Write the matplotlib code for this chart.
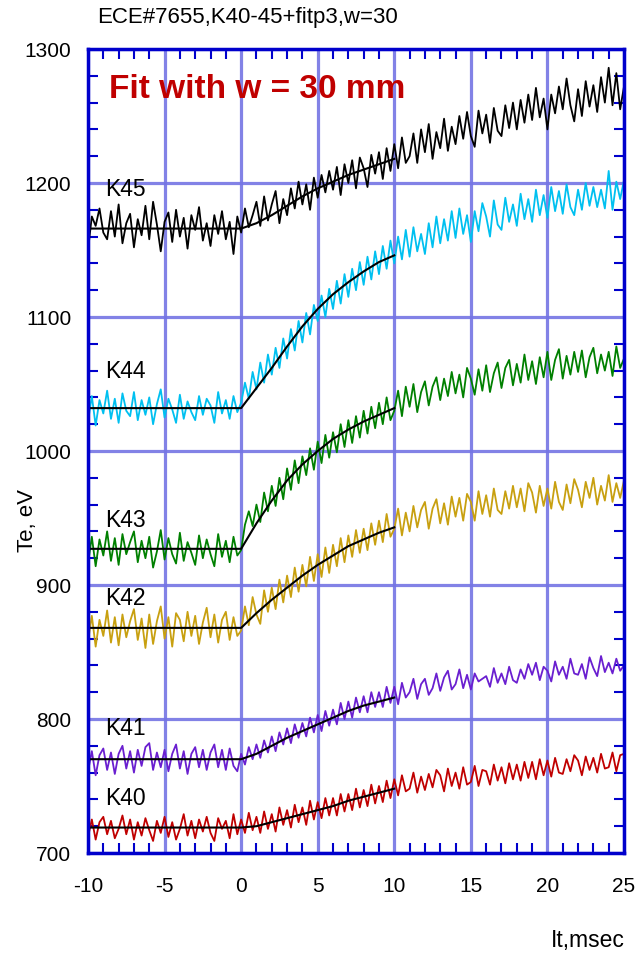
import numpy as np
import matplotlib
matplotlib.use("Agg")
import matplotlib.pyplot as plt
from matplotlib.ticker import MultipleLocator

plt.rcParams['font.family'] = ['Liberation Sans', 'DejaVu Sans']
plt.rcParams['axes.unicode_minus'] = False

# time axis, msec (0.25 ms sampling)
t = np.linspace(-10, 25, 141)

K45 = [1150, 1175, 1168, 1181, 1163, 1158, 1179, 1160, 1184, 1155, 1170, 1177,
       1152, 1173, 1161, 1183, 1158, 1186, 1169, 1149, 1171, 1178, 1156, 1180,
       1160, 1174, 1151, 1176, 1165, 1182, 1157, 1170, 1153, 1176, 1162, 1179,
       1158, 1171, 1147, 1175, 1163, 1181, 1167, 1176, 1186, 1168, 1190, 1172,
       1184, 1194, 1170, 1188, 1176, 1196, 1181, 1201, 1184, 1199, 1180, 1204,
       1189, 1206, 1193, 1209, 1195, 1212, 1191, 1214, 1200, 1217, 1196, 1219,
       1211, 1197, 1221, 1207, 1223, 1203, 1226, 1209, 1229, 1211, 1234, 1215,
       1220, 1237, 1215, 1240, 1223, 1244, 1218, 1238, 1226, 1248, 1224, 1242,
       1229, 1250, 1233, 1253, 1235, 1227, 1254, 1237, 1251, 1230, 1256, 1239,
       1235, 1258, 1241, 1260, 1240, 1262, 1245, 1266, 1247, 1271, 1249, 1263,
       1240, 1266, 1252, 1272, 1255, 1278, 1258, 1246, 1270, 1250, 1276, 1257,
       1273, 1253, 1279, 1260, 1286, 1258, 1282, 1255, 1272]

K44 = [1022, 1041, 1019, 1038, 1028, 1045, 1024, 1039, 1021, 1043, 1030, 1026,
       1044, 1023, 1038, 1027, 1040, 1020, 1035, 1046, 1025, 1039, 1031, 1021,
       1042, 1024, 1037, 1029, 1023, 1041, 1027, 1039, 1034, 1021, 1044, 1028,
       1038, 1024, 1041, 1029, 1036, 1051, 1039, 1059, 1046, 1066, 1051, 1072,
       1057, 1077, 1062, 1084, 1069, 1091, 1075, 1097, 1081, 1103, 1087, 1109,
       1097, 1116, 1100, 1121, 1106, 1127, 1110, 1132, 1115, 1136, 1120, 1141,
       1124, 1145, 1128, 1149, 1132, 1153, 1136, 1157, 1140, 1160, 1143, 1165,
       1145, 1167, 1149, 1162, 1147, 1170, 1152, 1175, 1155, 1173, 1157, 1179,
       1159, 1181, 1162, 1176, 1156, 1179, 1164, 1185, 1175, 1160, 1187, 1169,
       1165, 1189, 1171, 1184, 1168, 1192, 1173, 1188, 1171, 1195, 1176, 1191,
       1174, 1197, 1179, 1194, 1177, 1199, 1182, 1176, 1195, 1180, 1200, 1183,
       1197, 1182, 1195, 1181, 1209, 1180, 1201, 1188, 1202]

K43 = [916, 936, 914, 934, 922, 940, 918, 935, 915, 938, 923, 932,
       940, 917, 933, 920, 936, 913, 925, 941, 919, 935, 923, 916,
       939, 918, 932, 924, 915, 937, 920, 934, 923, 914, 938, 921,
       933, 917, 936, 922, 926, 945, 955, 944, 960, 947, 969, 955,
       974, 959, 980, 964, 987, 971, 993, 976, 996, 982, 1002, 986,
       1007, 991, 1012, 995, 1014, 999, 1020, 1003, 1023, 1006, 1026, 1010,
       1030, 1013, 1033, 1017, 1036, 1020, 1040, 1023, 1030, 1045, 1026, 1048,
       1033, 1050, 1029, 1044, 1052, 1034, 1048, 1055, 1038, 1054, 1041, 1059,
       1043, 1057, 1040, 1062, 1054, 1042, 1061, 1045, 1064, 1044, 1058, 1066,
       1047, 1062, 1068, 1049, 1065, 1051, 1072, 1053, 1067, 1050, 1070, 1055,
       1074, 1053, 1068, 1076, 1054, 1071, 1057, 1074, 1059, 1075, 1055, 1070,
       1077, 1058, 1072, 1060, 1074, 1056, 1078, 1062, 1069]

K42 = [858, 877, 854, 874, 862, 881, 857, 876, 855, 878, 861, 873,
       882, 859, 875, 853, 878, 856, 873, 884, 860, 876, 854, 879,
       874, 858, 880, 862, 877, 856, 872, 883, 861, 878, 857, 874,
       880, 859, 876, 862, 866, 884, 870, 891, 878, 871, 896, 880,
       898, 882, 904, 887, 907, 891, 913, 895, 915, 899, 921, 903,
       923, 906, 928, 909, 930, 914, 935, 917, 937, 921, 941, 924,
       942, 926, 946, 930, 948, 932, 953, 936, 942, 957, 937, 954,
       940, 959, 943, 956, 962, 942, 957, 964, 946, 961, 945, 966,
       951, 965, 948, 968, 962, 948, 970, 953, 967, 951, 972, 956,
       953, 970, 957, 974, 958, 972, 955, 976, 969, 954, 974, 959,
       972, 957, 977, 962, 956, 975, 961, 979, 971, 958, 977, 965,
       980, 960, 974, 963, 982, 962, 976, 965, 978]

K41 = [761, 776, 758, 773, 778, 762, 775, 759, 774, 780, 763, 776,
       760, 777, 765, 779, 782, 762, 775, 764, 777, 761, 774, 781,
       763, 776, 759, 774, 779, 764, 777, 762, 775, 781, 764, 777,
       762, 778, 765, 761, 774, 766, 779, 770, 781, 771, 784, 775,
       787, 776, 790, 781, 793, 782, 796, 786, 797, 787, 801, 790,
       803, 791, 806, 795, 807, 796, 812, 800, 813, 801, 816, 805,
       817, 805, 820, 809, 820, 809, 824, 812, 824, 811, 827, 816,
       820, 830, 815, 826, 830, 818, 823, 834, 821, 831, 836, 822,
       826, 837, 823, 833, 822, 834, 828, 830, 832, 824, 838, 827,
       834, 826, 839, 829, 827, 837, 830, 841, 833, 842, 829, 839,
       836, 828, 843, 833, 839, 830, 845, 834, 833, 841, 830, 846,
       838, 832, 847, 835, 842, 834, 845, 836, 840]

K40 = [712, 725, 710, 723, 727, 714, 724, 711, 718, 728, 714, 725,
       710, 723, 713, 726, 717, 709, 724, 715, 727, 712, 723, 710,
       718, 729, 713, 724, 711, 725, 716, 727, 715, 709, 726, 718,
       724, 711, 729, 714, 725, 715, 730, 717, 727, 715, 731, 718,
       729, 716, 734, 721, 732, 719, 736, 723, 734, 721, 739, 725,
       738, 726, 741, 728, 741, 728, 744, 731, 744, 732, 748, 734,
       747, 735, 751, 737, 750, 738, 754, 741, 755, 743, 758, 746,
       748, 760, 745, 757, 747, 759, 749, 762, 758, 746, 763, 750,
       760, 748, 764, 751, 753, 765, 750, 762, 761, 751, 766, 754,
       764, 752, 767, 755, 766, 754, 768, 756, 768, 755, 770, 758,
       769, 757, 771, 760, 759, 770, 761, 773, 769, 758, 772, 762,
       771, 760, 774, 763, 764, 775, 761, 773, 774]

# fit curves (flat before 0, fit from 0 to 10 msec)
t_fit = [-10, 0, 1, 2, 3, 4, 5, 6, 7, 8, 9, 10]
fit45 = [1166, 1166, 1170, 1176, 1183, 1190, 1196, 1201, 1206, 1210, 1214, 1218]
fit44 = [1032, 1032, 1047, 1062, 1078, 1093, 1106, 1117, 1126, 1134, 1141, 1146]
fit43 = [927, 927, 946, 963, 978, 990, 1000, 1009, 1016, 1022, 1027, 1032]
fit42 = [868, 868, 879, 889, 898, 907, 915, 922, 929, 934, 939, 943]
fit41 = [770, 770, 774, 780, 786, 791, 796, 801, 806, 810, 813, 816]
fit40 = [719, 719, 720, 723, 726, 729, 732, 735, 739, 742, 745, 748]

names = ["K40", "K41", "K42", "K43", "K44", "K45"]
label_y = [741, 793, 890, 948, 1059, 1195]
colors = ["#c00000", "#6a1fd0", "#c8a010", "#008000", "#00c0f0", "#000000"]

series = [K40, K41, K42, K43, K44, K45]
fits = [fit40, fit41, fit42, fit43, fit44, fit45]

fig = plt.figure(figsize=(6.38, 9.55), dpi=100)
ax = fig.add_axes([88 / 638, 1 - 853 / 955, (624 - 88) / 638, (853 - 49) / 955])

ax.set_xlim(-10, 25)
ax.set_ylim(700, 1300)

ax.xaxis.set_major_locator(MultipleLocator(5))
ax.xaxis.set_minor_locator(MultipleLocator(1))
ax.yaxis.set_major_locator(MultipleLocator(100))
ax.yaxis.set_minor_locator(MultipleLocator(20))
ax.grid(True, which='major', color='#7474e4', linewidth=2.3, alpha=0.9, zorder=0)
ax.set_axisbelow(True)

for y, c in zip(series, colors):
    ax.plot(t[:len(y)], y, color=c, linewidth=1.3, zorder=2)
for f in fits:
    ax.plot(t_fit, f, color='black', linewidth=1.5, zorder=3)

for n, ly in zip(names, label_y):
    ax.text(-8.9, ly, n, fontsize=16.5, va='center', ha='left', zorder=4)

ax.text(-8.6, 1270, "Fit with w = 30 mm", fontsize=24, fontweight='bold',
        color='#c00000', va='center', ha='left', zorder=4)

for s in ax.spines.values():
    s.set_color('#0000cc')
    s.set_linewidth(2.5)
    s.set_zorder(5)

ax.tick_params(which='both', direction='in', color='#0000cc', top=True, right=True,
               labelsize=15, width=1.5)
ax.tick_params(which='major', length=0)
ax.tick_params(which='minor', length=7)
ax.tick_params(axis='x', which='major', pad=17)
ax.tick_params(axis='y', which='major', pad=12)

fig.text(28 / 638, 1 - 520 / 955, "Te, eV", fontsize=16, rotation=90,
         ha='center', va='center')
fig.text(625 / 638, 1 - 940 / 955, "It,msec", fontsize=16.5, ha='right', va='center')
fig.text(248 / 638, 1 - 18 / 955, "ECE#7655,K40-45+fitp3,w=30", fontsize=16,
         ha='center', va='center')

fig.savefig("out.png", dpi=100)
